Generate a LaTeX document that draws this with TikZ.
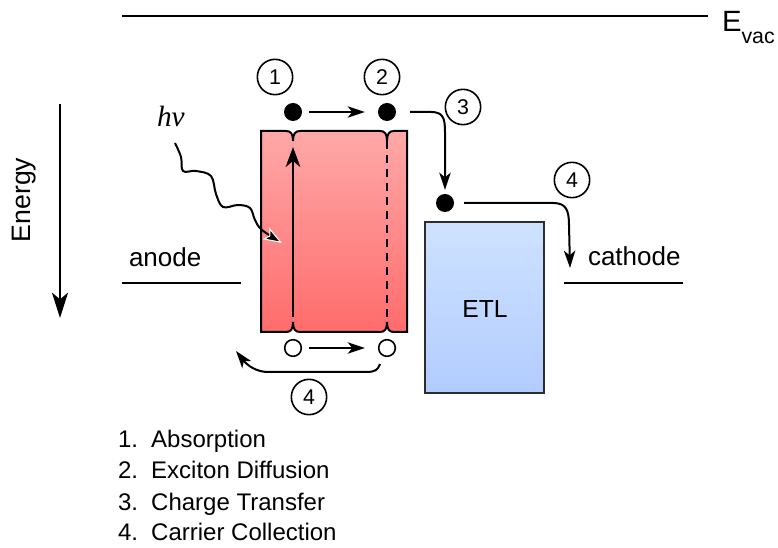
\documentclass[tikz,border=0pt]{standalone}
\usepackage{fontspec}
\setmainfont{Liberation Sans}
\newfontfamily\seriffont{Liberation Serif}
\usetikzlibrary{arrows.meta}
\definecolor{redtop}{RGB}{255,168,168}
\definecolor{redbot}{RGB}{255,108,108}
\definecolor{bluetop}{RGB}{206,226,255}
\definecolor{bluebot}{RGB}{178,204,255}
\definecolor{boxline}{RGB}{45,45,45}
\begin{document}
\begin{tikzpicture}[x=0.75pt,y=-0.75pt, line width=1.5pt,
 >={Stealth[length=13pt,width=8.5pt,inset=3.5pt]},
 num/.style={circle,draw,line width=1.2pt,minimum size=26.5pt,inner sep=0pt,font=\fontsize{16}{18}\selectfont},
 elec/.style={circle,fill=black,minimum size=13.5pt,inner sep=0pt},
 hole/.style={circle,draw,fill=white,line width=1.2pt,minimum size=12.5pt,inner sep=0pt},
 lbl/.style={font=\fontsize{19.5}{22}\selectfont,inner sep=0pt},
 leg/.style={font=\fontsize{18}{21}\selectfont,inner sep=0pt,anchor=base west},
]
\useasboundingbox (0,0) rectangle (778,548);

% vacuum level
\coordinate (evL) at (122,16);
\coordinate (evR) at (708,16);
\draw (evL) -- (evR);
\node[anchor=base west,inner sep=0pt] (evac) at (721,32) {\fontsize{22}{26}\selectfont E\raisebox{-8.5pt}{\fontsize{16}{19}\selectfont vac}};

% energy axis
\coordinate (enTop) at (60,104);
\coordinate (enBot) at (60,318);
\draw[-{Stealth[length=19pt,width=12pt,inset=5pt]}] (enTop) -- (enBot);
\node[rotate=90,font=\fontsize{20}{24}\selectfont,inner sep=0pt] (energy) at (24,200) {Energy};

% anode / cathode
\coordinate (anL) at (122,283);
\coordinate (anR) at (241,283);
\draw (anL) -- (anR);
\node[lbl,anchor=base west] (anode) at (128,267) {anode};
\coordinate (caL) at (564,283);
\coordinate (caR) at (683,283);
\draw (caL) -- (caR);
\node[lbl,anchor=base west] (cathode) at (587,266) {cathode};

% active layer
\path[draw=black,top color=redtop,bottom color=redbot]
 (261,131) -- (286,131) .. controls (291,131) and (293,134) .. (293,141)
 .. controls (293,134) and (295,131) .. (300,131) -- (380,131)
 .. controls (385,131) and (387,134) .. (387,141)
 .. controls (387,134) and (389,131) .. (394,131) -- (407,131) -- (407,332)
 -- (394,332) .. controls (389,332) and (387,329) .. (387,322)
 .. controls (387,329) and (385,332) .. (380,332) -- (300,332)
 .. controls (295,332) and (293,329) .. (293,322)
 .. controls (293,329) and (291,332) .. (286,332) -- (261,332) -- cycle;

\coordinate (absBot) at (293,317);
\coordinate (absTip) at (293,147);
\draw[-{Stealth[length=15pt,width=11pt,inset=4.5pt]}] (absBot) -- (absTip);
\coordinate (dTop) at (387,141);
\coordinate (dBot) at (387,322);
\draw[dash pattern=on 6pt off 4.5pt] (dTop) -- (dBot);

% ETL
\path[draw=boxline,top color=bluetop,bottom color=bluebot] (425,222) rectangle (544,393);
\node[font=\fontsize{18.5}{22}\selectfont,inner sep=0pt] (etl) at (485,309) {ETL};

% electrons
\node[elec] (e1) at (293,112) {};
\node[elec] (e2) at (387,112) {};
\node[elec] (e3) at (445,203) {};
\coordinate (a1s) at (309,112);
\coordinate (a1e) at (365,112);
\draw[->] (a1s) -- (a1e);

% charge transfer
\coordinate (ctS) at (410,112);
\coordinate (ctE) at (445,190);
\draw[->] (ctS) -- (431,112) .. controls (443,112) and (445,118) .. (445,132) -- (ctE);

% collection at cathode
\coordinate (ccS) at (464,203);
\coordinate (ccE) at (570,268);
\draw[->] (ccS) -- (553,203) .. controls (566,203) and (569,210) .. (569,225) -- (ccE);

% holes
\node[hole] (h1) at (293,348) {};
\node[hole] (h2) at (387,348) {};
\coordinate (a2s) at (309,348);
\coordinate (a2e) at (365,348);
\draw[->] (a2s) -- (a2e);

% collection at anode
\coordinate (haS) at (380,364);
\coordinate (haE) at (236,351);
\draw[->] (haS) .. controls (378,370) and (375,372) .. (366,372) -- (268,372) .. controls (256,372) and (247,365) .. (haE);

% photon
\node[inner sep=0pt,anchor=base west] (hv) at (156,127) {\seriffont\itshape\fontsize{22}{25}\selectfont hv};
\coordinate (phS) at (175,143);
\coordinate (phE) at (282,243);
\draw[-{Stealth[length=14pt,width=10pt,inset=3pt,fill=black,color=white,line width=0.8pt]}]
 plot[smooth,tension=0.6] coordinates {(phS) (181,157) (183,171) (196,171) (211,176) (216,194) (223,207) (238,205) (250,208) (255,220) (262,230) (phE)};

% step numbers
\node[num] (n1) at (275,77) {1};
\node[num] (n2) at (382,77) {2};
\node[num] (n3) at (463,107) {3};
\node[num] (n4a) at (572,180) {4};
\node[num] (n4b) at (309,397) {4};

% legend
\node[leg] (l1) at (117,448) {1.\hspace{0.55em}Absorption};
\node[leg] (l2) at (117,479) {2.\hspace{0.55em}Exciton Diffusion};
\node[leg] (l3) at (117,510) {3.\hspace{0.55em}Charge Transfer};
\node[leg] (l4) at (117,541) {4.\hspace{0.55em}Carrier Collection};
\end{tikzpicture}
\end{document}
